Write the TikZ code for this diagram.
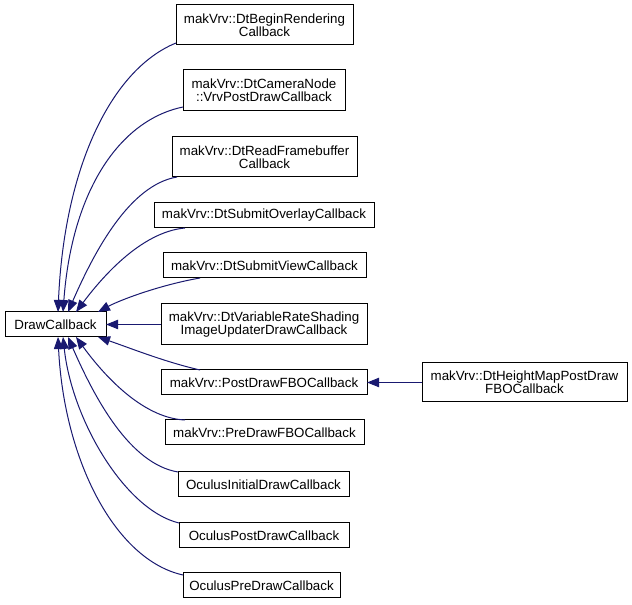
\documentclass[tikz,border=0pt]{standalone}
\usepackage{fontspec}
\setmainfont{Liberation Sans}
\usetikzlibrary{arrows.meta,calc}
\definecolor{edgeblue}{HTML}{191970}
\tikzset{
  box/.style={draw=black, line width=0.75pt, fill=white, align=center, inner sep=0pt, outer sep=0pt,
    font=\fontsize{10}{10}\selectfont},
  inh/.style={draw=edgeblue, line width=0.75pt, {Triangle[length=9pt,width=7pt,fill=edgeblue]}-},
}
\begin{document}
\begin{tikzpicture}[x=0.75pt,y=-0.75pt]
\useasboundingbox[fill=white] (0,0) rectangle (632,605);
% nodes (pixel-centred)
\node[box, minimum width=101*0.75pt, minimum height=25*0.75pt] (dc) at (55.5,324.5) {DrawCallback};
\node[box, minimum width=177*0.75pt, minimum height=40*0.75pt] (n1) at (264.5,25) {makVrv::DtBeginRendering\\Callback};
\node[box, minimum width=162*0.75pt, minimum height=41*0.75pt] (n2) at (264,90.5) {makVrv::DtCameraNode\\::VrvPostDrawCallback};
\node[box, minimum width=185*0.75pt, minimum height=40*0.75pt] (n3) at (264.5,157) {makVrv::DtReadFramebuffer\\Callback};
\node[box, minimum width=220*0.75pt, minimum height=25*0.75pt] (n4) at (264,215.5) {makVrv::DtSubmitOverlayCallback};
\node[box, minimum width=203*0.75pt, minimum height=25*0.75pt] (n5) at (264.5,265.5) {makVrv::DtSubmitViewCallback};
\node[box, minimum width=206*0.75pt, minimum height=41*0.75pt] (n6) at (264,324.5) {makVrv::DtVariableRateShading\\ImageUpdaterDrawCallback};
\node[box, minimum width=206*0.75pt, minimum height=25*0.75pt] (n7) at (264,382.5) {makVrv::PostDrawFBOCallback};
\node[box, minimum width=199*0.75pt, minimum height=25*0.75pt] (n8) at (264.5,432.5) {makVrv::PreDrawFBOCallback};
\node[box, minimum width=171*0.75pt, minimum height=25*0.75pt] (n9) at (263.5,484.5) {OculusInitialDrawCallback};
\node[box, minimum width=170*0.75pt, minimum height=25*0.75pt] (n10) at (264,535.5) {OculusPostDrawCallback};
\node[box, minimum width=157*0.75pt, minimum height=25*0.75pt] (n11) at (261.5,585.5) {OculusPreDrawCallback};
\node[box, minimum width=205*0.75pt, minimum height=39*0.75pt] (n12) at (524.5,382.5) {makVrv::DtHeightMapPostDraw\\FBOCallback};
% edges
\draw[inh] ($(dc.north west)+(53,0)$) .. controls (64,170) and (110,70) .. ($(n1.south west)+(0,-2)$);
\draw[inh] ($(dc.north west)+(58,0)$) .. controls (72,190) and (120,120) .. ($(n2.south west)+(0,-4)$);
\draw[inh] ($(dc.north west)+(63,0)$) .. controls (95,250) and (130,185) .. ($(n3.south west)+(5,0)$);
\draw[inh] ($(dc.north west)+(71,0)$) .. controls (100,280) and (140,232) .. ($(n4.south west)+(31,0)$);
\draw[inh] ($(dc.north west)+(93,0)$) .. controls (120,300) and (160,285) .. ($(n5.south west)+(37,0)$);
\draw[inh] (dc.east) -- (n6.west);
\draw[inh] ($(dc.south west)+(93,0)$) .. controls (130,348) and (165,362) .. ($(n7.north west)+(39,0)$);
\draw[inh] ($(dc.south west)+(71,0)$) .. controls (100,370) and (140,418) .. ($(n8.north west)+(20,0)$);
\draw[inh] ($(dc.south west)+(63,0)$) .. controls (95,399) and (130,464) .. ($(n9.north west)+(0,0)$);
\draw[inh] ($(dc.south west)+(58,0)$) .. controls (72,420) and (125,510) .. ($(n10.north west)+(0,0)$);
\draw[inh] ($(dc.south west)+(53,0)$) .. controls (64,460) and (115,560) .. ($(n11.north west)+(0,2)$);
\draw[inh] (n7.east) -- (n12.west);
\end{tikzpicture}
\end{document}
